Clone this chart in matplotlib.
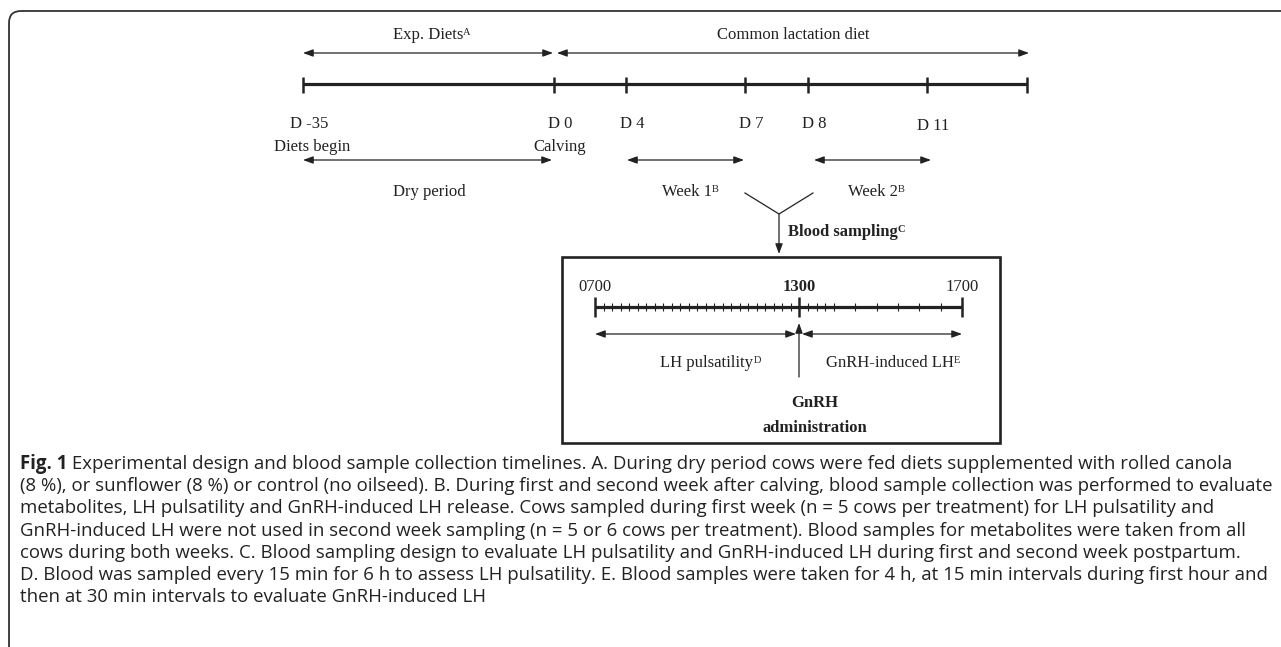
import numpy as np
import matplotlib.pyplot as plt
from matplotlib.patches import FancyBboxPatch, Rectangle

# top timeline: day labels and schematic x positions (px)
days = ["D -35", "D 0", "D 4", "D 7", "D 8", "D 11", ""]
day_x = [303, 554, 626, 745, 808, 927, 1027]

# periods above / below the top timeline: (label, sup, start, end)
periods_top = [("Exp. Diets", "A", 303, 553), ("Common lactation diet", "", 557, 1029)]
periods_low = [("Dry period", "", 303, 552), ("Week 1", "B", 627, 744), ("Week 2", "B", 814, 931)]

# sampling day: minutes after 0700 and schematic position
knots_min = [0, 360, 420, 600]
knots_x = [595, 799, 834, 962]
samples_min = list(range(0, 361, 15)) + [375, 390, 405, 420, 450, 480, 510, 540, 570, 600]
hour_labels = ["0700", "1300", "1700"]
hour_min = [0, 360, 600]

caption = [
    "Experimental design and blood sample collection timelines. A. During dry period cows were fed diets supplemented with rolled canola",
    "(8 %), or sunflower (8 %) or control (no oilseed). B. During first and second week after calving, blood sample collection was performed to evaluate",
    "metabolites, LH pulsatility and GnRH-induced LH release. Cows sampled during first week (n = 5 cows per treatment) for LH pulsatility and",
    "GnRH-induced LH were not used in second week sampling (n = 5 or 6 cows per treatment). Blood samples for metabolites were taken from all",
    "cows during both weeks. C. Blood sampling design to evaluate LH pulsatility and GnRH-induced LH during first and second week postpartum.",
    "D. Blood was sampled every 15 min for 6 h to assess LH pulsatility. E. Blood samples were taken for 4 h, at 15 min intervals during first hour and",
    "then at 30 min intervals to evaluate GnRH-induced LH",
]

ink = "#222222"
serif = "Liberation Serif"
fs = 12

fig = plt.figure(figsize=(12.81, 6.47), dpi=100)
ax = fig.add_axes([0, 0, 1, 1])
ax.set_xlim(0, 1281)
ax.set_ylim(647, 0)
ax.axis("off")

# outer rounded frame (runs off right/bottom)
ax.add_patch(FancyBboxPatch((9, 11), 1400, 800, boxstyle="round,pad=0,rounding_size=12",
                            fill=False, lw=1.3, ec="#333333"))


def arrow(x0, x1, y0, y1=None, style="<|-|>", lw=0.9):
    if y1 is None:
        y1 = y0
    ax.annotate("", xy=(x1, y1), xytext=(x0, y0),
                arrowprops=dict(arrowstyle=style + ",head_length=0.6,head_width=0.22",
                                lw=lw, color=ink, shrinkA=0, shrinkB=0))


def label(x, y, s, sup="", bold=False, ha="center", size=fs):
    w = "bold" if bold else "normal"
    t = ax.text(x, y, s, ha=ha, va="center", family=serif, fontsize=size,
                color=ink, weight=w)
    if sup:
        ax.annotate(sup, xy=(1, 0.93), xycoords=t, ha="left", va="top",
                    family=serif, fontsize=size * 0.62, color=ink, weight=w)
    return t


# top timeline
ax.plot([day_x[0], day_x[-1]], [84, 84], color=ink, lw=2.3, solid_capstyle="butt")
ax.vlines(day_x, 77, 93, color=ink, lw=1.8)
for d, x in zip(days, day_x):
    if d:
        label(x + 6, 124 if d != "D 11" else 126, d)
label(312, 147, "Diets begin")
label(560, 147, "Calving")

for name, sup, a, b in periods_top:
    arrow(a, b, 53)
    label((a + b) / 2, 35, name, sup)
text_x = [429, 687, 873]
for (name, sup, a, b), tx in zip(periods_low, text_x):
    arrow(a, b, 160)
    label(tx, 192, name, sup)

# V join and arrow down to the box
ax.plot([745, 779, 813], [193, 214, 193], color=ink, lw=0.9)
arrow(779, 779, 214, 254, style="-|>")
label(788, 232, "Blood sampling", "C", bold=True, ha="left")

# inner box
ax.add_patch(Rectangle((562, 257), 438, 186, fill=False, lw=1.9, ec=ink))

xs = np.interp(samples_min, knots_min, knots_x)
y0 = 307
ax.plot([xs[0], xs[-1]], [y0, y0], color=ink, lw=2.3, solid_capstyle="butt")
minor = [x for m, x in zip(samples_min, xs) if m not in hour_min]
ax.vlines(minor, y0 - 4, y0 + 4, color=ink, lw=0.8)
major = np.interp(hour_min, knots_min, knots_x)
ax.vlines(major, y0 - 10, y0 + 10, color=ink, lw=1.8)
for s, x in zip(hour_labels, major):
    label(x, 287, s, bold=(s == "1300"))

arrow(major[0], major[1] - 3, 334)
arrow(major[1] + 3, major[2], 334)
arrow(major[1], major[1], 377, 323, style="-|>")
label(707, 363, "LH pulsatility", "D")
label(890, 363, "GnRH-induced LH", "E")
label(815, 403, "GnRH", bold=True)
label(815, 428, "administration", bold=True)

# caption
cap_font = "Open Sans"
cfs = 13.4
y = 464
t0 = ax.text(20, y, "Fig. 1", ha="left", va="center", family=cap_font,
             fontsize=cfs, weight="bold", color=ink)
ax.annotate(" " + caption[0], xy=(1, 0.5), xycoords=t0, ha="left", va="center",
            family=cap_font, fontsize=cfs, color=ink)
for i, line in enumerate(caption[1:], start=1):
    ax.text(20, y + 22.2 * i, line, ha="left", va="center", family=cap_font,
            fontsize=cfs, color=ink)

fig.savefig("out.png", dpi=100)
